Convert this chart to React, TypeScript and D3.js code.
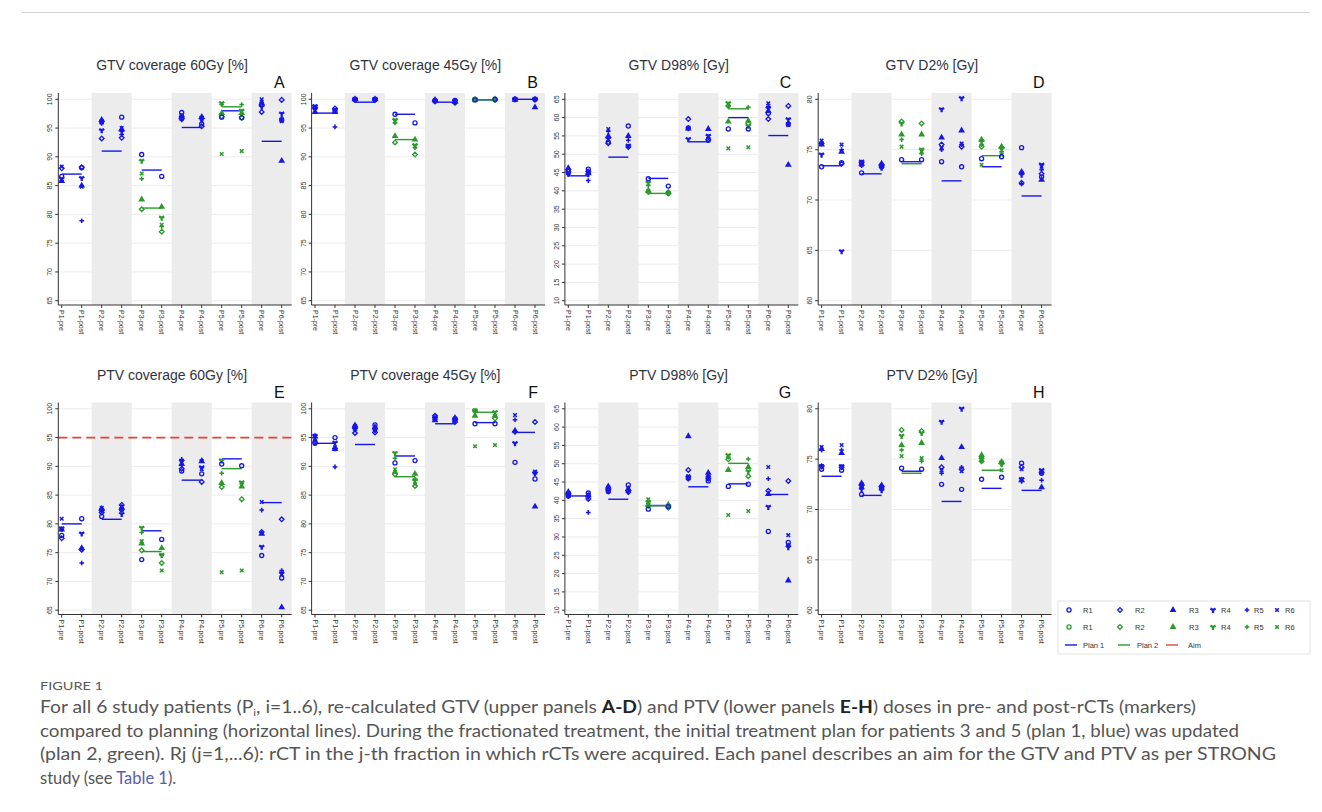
import React from 'react';
import * as d3 from 'd3';

// categories
const patients = ['P1', 'P2', 'P3', 'P4', 'P5', 'P6'];
const xTickLabels = patients.flatMap(p => [`${p}-pre`, `${p}-post`]);
const rounds = ['R1', 'R2', 'R3', 'R4', 'R5', 'R6'];
// which plan each rCT belongs to (patients 3 and 5 replanned after R1)
const roundPlan = [
  [1, 1, 1, 1, 1, 1],
  [1, 1, 1, 1, 1, 1],
  [1, 2, 2, 2, 2, 2],
  [1, 1, 1, 1, 1, 1],
  [1, 2, 2, 2, 2, 2],
  [1, 1, 1, 1, 1, 1],
];

// y tick labels
const ticksPct = [65, 70, 75, 80, 85, 90, 95, 100];
const ticksD98 = [10, 15, 20, 25, 30, 35, 40, 45, 50, 55, 60, 65];
const ticksD2 = [60, 65, 70, 75, 80];

// ---- GTV coverage 60Gy (rows = patient, cols = R1..R6)
const gtv60Pre = [
  [86.6, 88.0, 85.8, 86.2, 85.9, 88.3],
  [96.2, 93.2, 96.4, 94.6, 95.8, 96.0],
  [90.4, 80.9, 82.6, 89.3, 86.2, 87.1],
  [97.7, 96.6, 97.0, 96.9, 96.4, 97.2],
  [96.9, 97.0, 97.6, 99.3, 99.1, 90.5],
  [99.0, 97.8, 99.3, 98.7, 99.5, 100.0],
];
const gtv60Post = [
  [88.1, 88.2, 85.0, 86.3, 78.9, 84.8],
  [96.9, 93.3, 94.8, 94.4, 93.9, 95.0],
  [86.6, 77.0, 81.3, 79.4, 77.9, 78.2],
  [95.7, 95.3, 96.9, 96.5, 97.0, 96.6],
  [96.8, 96.8, 97.6, 98.0, 99.1, 91.0],
  [96.4, 99.9, 89.3, 97.5, 96.7, 96.2],
];
const gtv60Plan1 = [87.0, 91.0, 87.7, 95.1, 98.0, 92.7];
const gtv60Plan2 = [null, null, 81.1, null, 98.7, null];

// ---- GTV coverage 45Gy
const gtv45Pre = [
  [98.6, 98.5, 97.8, 98.8, 98.3, 98.0],
  [100, 99.9, 100, 100, 99.9, 100],
  [97.4, 92.5, 93.6, 96.4, 95.9, 96.1],
  [99.8, 99.6, 99.9, 99.7, 99.6, 99.8],
  [99.9, 100, 99.9, 100, 99.9, 100],
  [100, 100, 99.9, 100, 100, 100],
];
const gtv45Post = [
  [98.0, 98.4, 97.8, 98.2, 95.2, 97.9],
  [100, 99.9, 100, 100, 99.9, 100],
  [95.9, 90.4, 93.0, 92.0, 91.6, 91.8],
  [99.8, 99.4, 99.6, 99.7, 99.4, 99.5],
  [100, 99.9, 100, 99.9, 100, 100],
  [100, 100, 98.6, 100, 99.9, 100],
];
const gtv45Plan1 = [97.6, 99.5, 97.4, 99.5, 99.9, 100];
const gtv45Plan2 = [null, null, 93.0, null, 99.9, null];

// ---- GTV D98%
const gtvD98Pre = [
  [45.6, 45.3, 46.2, 44.7, 44.5, 45.0],
  [53.3, 53.0, 55.0, 54.2, 56.3, 56.9],
  [43.3, 39.7, 40.0, 42.2, 41.5, 40.0],
  [57.2, 59.6, 57.0, 54.1, 56.9, 57.1],
  [56.9, 63.2, 58.9, 63.9, 63.3, 51.6],
  [61.2, 59.6, 61.8, 62.5, 63.0, 63.9],
];
const gtvD98Post = [
  [45.9, 45.3, 44.8, 44.5, 42.8, 44.9],
  [57.7, 52.0, 55.0, 52.3, 53.8, 52.2],
  [41.3, 39.3, 39.6, 39.4, 39.2, 39.5],
  [53.8, 54.0, 56.9, 55.0, 54.4, 54.9],
  [56.9, 58.3, 59.1, 57.7, 62.8, 51.9],
  [58.2, 63.2, 47.1, 59.5, 58.6, 58.0],
];
const gtvD98Plan1 = [44.1, 49.2, 43.4, 53.4, 60.0, 55.1];
const gtvD98Plan2 = [null, null, 39.3, null, 62.4, null];

// ---- GTV D2%
const gtvD2Pre = [
  [73.3, 75.6, 75.5, 74.5, 75.7, 75.9],
  [72.7, 73.7, 73.6, 73.8, 73.4, 73.5],
  [74.0, 77.8, 76.5, 77.6, 76.0, 75.3],
  [73.8, 75.5, 76.2, 79.0, 75.0, 75.2],
  [74.1, 75.3, 76.0, 75.8, 75.5, 73.5],
  [75.2, 71.7, 72.8, 72.5, 71.6, 72.7],
];
const gtvD2Post = [
  [73.7, 73.6, 74.8, 64.9, 75.0, 75.5],
  [73.3, 73.5, 73.6, 73.2, 73.4, 73.5],
  [74.0, 77.6, 76.5, 75.0, 74.6, 74.8],
  [73.3, 75.3, 76.9, 80.1, 75.5, 75.6],
  [74.3, 75.2, 75.3, 75.1, 74.8, 74.5],
  [72.3, 72.6, 72.0, 73.5, 73.0, 73.3],
];
const gtvD2Plan1 = [73.4, 72.6, 73.8, 71.9, 73.3, 70.4];
const gtvD2Plan2 = [null, null, 73.6, null, 74.4, null];

// ---- PTV coverage 60Gy
const ptv60Pre = [
  [78.0, 77.5, 79.0, 79.2, 79.0, 80.9],
  [81.3, 82.0, 82.6, 82.4, 82.2, 82.8],
  [73.8, 75.4, 76.6, 79.3, 78.5, 77.0],
  [89.2, 89.6, 90.4, 90.9, 91.2, 90.6],
  [90.4, 86.4, 87.1, 91.0, 88.8, 71.6],
  [74.5, 78.6, 78.3, 76.0, 82.4, 83.8],
];
const ptv60Post = [
  [80.9, 75.5, 75.8, 78.3, 73.2, 75.6],
  [82.5, 83.3, 82.8, 81.7, 82.4, 83.0],
  [77.3, 73.2, 75.8, 74.6, 74.5, 71.9],
  [88.7, 87.3, 90.9, 89.8, 91.1, 89.5],
  [90.1, 84.3, 86.5, 87.2, 87.0, 71.9],
  [70.6, 80.8, 65.5, 71.4, 71.9, 71.2],
];
const ptv60Plan1 = [80.0, 80.8, 78.8, 87.6, 91.3, 83.7];
const ptv60Plan2 = [null, null, 75.2, null, 89.6, null];
const ptv60Aim = 95;

// ---- PTV coverage 45Gy
const ptv45Pre = [
  [94.0, 94.2, 95.2, 95.3, 94.5, 94.8],
  [96.8, 95.8, 97.1, 96.5, 96.3, 97.0],
  [90.6, 88.6, 89.0, 92.3, 91.4, 89.5],
  [98.3, 98.8, 98.0, 98.4, 98.1, 98.6],
  [97.4, 99.6, 98.8, 99.7, 99.5, 93.5],
  [90.7, 96.0, 96.2, 94.0, 98.1, 98.9],
];
const ptv45Post = [
  [95.0, 93.1, 93.0, 94.1, 89.9, 93.3],
  [97.2, 95.9, 96.8, 96.4, 96.2, 96.6],
  [91.0, 86.6, 88.7, 87.5, 87.8, 86.9],
  [98.0, 97.7, 98.4, 98.2, 98.0, 98.3],
  [97.4, 98.3, 98.8, 99.4, 99.0, 93.7],
  [87.8, 97.7, 83.0, 88.8, 88.7, 89.1],
];
const ptv45Plan1 = [94.0, 93.8, 91.8, 97.4, 97.6, 95.9];
const ptv45Plan2 = [null, null, 88.2, null, 99.4, null];

// ---- PTV D98%
const ptvD98Pre = [
  [41.2, 41.5, 42.3, 41.8, 41.0, 41.9],
  [42.4, 43.0, 43.8, 42.6, 42.3, 43.5],
  [37.6, 38.5, 38.7, 39.5, 39.2, 40.3],
  [46.0, 48.3, 57.5, 46.3, 45.8, 46.6],
  [43.8, 51.2, 48.3, 52.3, 51.8, 36.0],
  [31.5, 42.6, 41.7, 38.2, 45.9, 49.1],
];
const ptvD98Post = [
  [42.0, 40.4, 41.3, 41.0, 36.7, 41.5],
  [44.2, 42.3, 43.1, 42.5, 42.6, 43.3],
  [38.3, 38.0, 38.8, 38.4, 38.2, 38.5],
  [45.3, 45.9, 47.5, 46.2, 46.6, 47.0],
  [44.4, 46.6, 49.1, 47.9, 51.3, 37.1],
  [28.5, 45.3, 18.1, 27.2, 27.8, 30.5],
];
const ptvD98Plan1 = [41.2, 40.3, 38.6, 43.7, 44.5, 41.6];
const ptvD98Plan2 = [null, null, 38.5, null, 50.1, null];

// ---- PTV D2%
const ptvD2Pre = [
  [74.0, 74.3, 76.0, 74.3, 75.9, 76.2],
  [71.5, 72.4, 72.6, 72.0, 72.2, 72.5],
  [74.1, 77.9, 76.4, 77.3, 75.9, 75.3],
  [72.5, 74.2, 75.1, 78.7, 73.6, 73.9],
  [73.0, 74.8, 75.4, 75.0, 75.1, 74.9],
  [74.6, 74.2, 72.9, 73.0, 72.8, 74.0],
];
const ptvD2Post = [
  [73.9, 74.2, 75.6, 74.3, 75.9, 76.4],
  [72.1, 72.3, 72.4, 71.9, 72.0, 72.2],
  [74.0, 77.8, 76.6, 77.6, 74.8, 75.1],
  [72.0, 74.0, 76.2, 80.0, 74.2, 73.8],
  [73.2, 74.6, 74.7, 74.5, 74.8, 73.9],
  [73.6, 73.7, 72.2, 73.9, 72.9, 73.7],
];
const ptvD2Plan1 = [73.3, 71.4, 73.8, 70.8, 72.1, 71.9];
const ptvD2Plan2 = [null, null, 73.6, null, 73.9, null];

const panels = [
  { title: 'GTV coverage 60Gy [%]', letter: 'A', pre: gtv60Pre, post: gtv60Post, plan1: gtv60Plan1, plan2: gtv60Plan2, ticks: ticksPct, aim: null },
  { title: 'GTV coverage 45Gy [%]', letter: 'B', pre: gtv45Pre, post: gtv45Post, plan1: gtv45Plan1, plan2: gtv45Plan2, ticks: ticksPct, aim: null },
  { title: 'GTV D98% [Gy]', letter: 'C', pre: gtvD98Pre, post: gtvD98Post, plan1: gtvD98Plan1, plan2: gtvD98Plan2, ticks: ticksD98, aim: null },
  { title: 'GTV D2% [Gy]', letter: 'D', pre: gtvD2Pre, post: gtvD2Post, plan1: gtvD2Plan1, plan2: gtvD2Plan2, ticks: ticksD2, aim: null },
  { title: 'PTV coverage 60Gy [%]', letter: 'E', pre: ptv60Pre, post: ptv60Post, plan1: ptv60Plan1, plan2: ptv60Plan2, ticks: ticksPct, aim: ptv60Aim },
  { title: 'PTV coverage 45Gy [%]', letter: 'F', pre: ptv45Pre, post: ptv45Post, plan1: ptv45Plan1, plan2: ptv45Plan2, ticks: ticksPct, aim: null },
  { title: 'PTV D98% [Gy]', letter: 'G', pre: ptvD98Pre, post: ptvD98Post, plan1: ptvD98Plan1, plan2: ptvD98Plan2, ticks: ticksD98, aim: null },
  { title: 'PTV D2% [Gy]', letter: 'H', pre: ptvD2Pre, post: ptvD2Post, plan1: ptvD2Plan1, plan2: ptvD2Plan2, ticks: ticksD2, aim: null },
];

const BLUE = '#1616e8';
const GREEN = '#2a9a2a';
const RED = '#e8413c';
const planColor = (p: number) => (p === 2 ? GREEN : BLUE);
const FONT = '"Liberation Sans", Arial, sans-serif';

const COL_X = [58.3, 311.6, 564.9, 818.2];
const ROW_Y = [93, 402.5];
const PW = 233.4;
const PH = 212;

// marker shapes for R1..R6
const symTypes = [d3.symbolCircle, d3.symbolDiamond2, d3.symbolTriangle, d3.symbolWye, d3.symbolCross, d3.symbolTimes];
const symSizes = [13, 14, 20, 18, 12, 10];
const hollow = [true, true, false, false, false, false];
const stroked = [false, false, false, false, false, true];
const symPaths = symTypes.map((t, i) => d3.symbol().type(t).size(symSizes[i])() as string);

function Marker({ j, color, tx, ty }: any) {
  if (hollow[j]) return <path d={symPaths[j]} transform={`translate(${tx},${ty})`} fill="none" stroke={color} strokeWidth={1.3} />;
  if (stroked[j]) return <path d={symPaths[j]} transform={`translate(${tx},${ty})`} fill="none" stroke={color} strokeWidth={1.5} />;
  return <path d={symPaths[j]} transform={`translate(${tx},${ty})`} fill={color} />;
}

function Panel({ cfg, x0, y0 }: any) {
  const x = d3.scaleLinear().domain([-0.17, 11.5]).range([x0, x0 + PW]);
  const lo = cfg.ticks[0];
  const hi = cfg.ticks[cfg.ticks.length - 1];
  const y = d3.scaleLinear().domain([lo, hi]).range([y0 + PH - 4.3, y0 + 6.3]);
  const bottom = y0 + PH;

  return (
    <g>
      {cfg.ticks.map((t: number) => (
        <line key={'g' + t} x1={x0} x2={x0 + PW} y1={y(t)} y2={y(t)} stroke="#ebebeb" strokeWidth={1} />
      ))}
      {[1, 3, 5].map(p => (
        <rect key={'b' + p} x={x(2 * p - 0.5)} y={y0} width={x(2 * p + 1.5) - x(2 * p - 0.5)} height={PH} fill="#ececec" />
      ))}
      {cfg.aim != null && (
        <line x1={x0} x2={x0 + PW} y1={y(cfg.aim)} y2={y(cfg.aim)} stroke={RED} strokeWidth={1.8} strokeDasharray="9,5" />
      )}
      {patients.map((p, i) => (
        <g key={'pl' + p}>
          <line x1={x(2 * i)} x2={x(2 * i + 1)} y1={y(cfg.plan1[i])} y2={y(cfg.plan1[i])} stroke={BLUE} strokeWidth={1.4} />
          {cfg.plan2[i] != null && (
            <line x1={x(2 * i)} x2={x(2 * i + 1)} y1={y(cfg.plan2[i])} y2={y(cfg.plan2[i])} stroke={GREEN} strokeWidth={1.4} />
          )}
        </g>
      ))}
      {patients.map((p, i) =>
        [cfg.pre[i], cfg.post[i]].map((vals: number[], ph: number) =>
          vals.map((v, j) => ({ v, j })).reverse().map(({ v, j }) => (
            <Marker key={`m${i}-${ph}-${j}`} j={j} color={planColor(roundPlan[i][j])} tx={x(2 * i + ph)} ty={y(v)} />
          ))
        )
      )}
      {/* axes */}
      <line x1={x0} x2={x0} y1={y0} y2={bottom} stroke="#333" strokeWidth={1} />
      <line x1={x0} x2={x0 + PW} y1={bottom} y2={bottom} stroke="#333" strokeWidth={1} />
      {cfg.ticks.map((t: number) => (
        <g key={'yt' + t}>
          <line x1={x0 - 3} x2={x0} y1={y(t)} y2={y(t)} stroke="#333" />
          <text transform={`translate(${x0 - 6},${y(t)}) rotate(-90)`} textAnchor="middle" fontSize={7} fill="#333">{t}</text>
        </g>
      ))}
      {xTickLabels.map((lab, k) => (
        <g key={'xt' + lab}>
          <line x1={x(k)} x2={x(k)} y1={bottom} y2={bottom + 3} stroke="#333" />
          <text transform={`translate(${x(k) - 2.5},${bottom + 5}) rotate(90)`} fontSize={7} fill="#333">{lab}</text>
        </g>
      ))}
      <text x={x0 + PW / 2 - 3} y={y0 - 23} textAnchor="middle" fontSize={14} fill="#30323f">{cfg.title}</text>
      <text x={x0 + PW - 7} y={y0 - 5} textAnchor="end" fontSize={16} fill="#111">{cfg.letter}</text>
    </g>
  );
}

const legendMarkerX = [1069, 1120, 1173, 1213, 1247, 1277];
const legendTextX = [1083, 1135, 1189, 1221, 1254, 1285];
const legendLines = [
  { label: 'Plan 1', color: BLUE, x: 1065, tx: 1083 },
  { label: 'Plan 2', color: GREEN, x: 1118, tx: 1137 },
  { label: 'Aim', color: RED, x: 1166, tx: 1188 },
];

function Legend() {
  const rowsY = [610, 627, 645];
  return (
    <g fontSize={7.5} fill="#333">
      <rect x={1058} y={601} width={252} height={53} fill="#fff" stroke="#e2e2e2" />
      {[BLUE, GREEN].map((c, r) =>
        rounds.map((lab, j) => (
          <g key={`lg${r}${j}`}>
            <Marker j={j} color={c} tx={legendMarkerX[j]} ty={rowsY[r]} />
            <text x={legendTextX[j]} y={rowsY[r] + 2.7}>{lab}</text>
          </g>
        ))
      )}
      {legendLines.map(l => (
        <g key={l.label}>
          <line x1={l.x} x2={l.x + 12} y1={rowsY[2]} y2={rowsY[2]} stroke={l.color} strokeWidth={1.4} />
          <text x={l.tx} y={rowsY[2] + 2.7}>{l.label}</text>
        </g>
      ))}
    </g>
  );
}

const CAP_FONT = 'Lato, "Open Sans", sans-serif';

export default function App() {
  return (
    <svg width={1322} height={812} style={{ position: 'absolute', left: 0, top: 0, background: '#fff' }} fontFamily={FONT}>
      <rect width={1322} height={812} fill="#fff" />
      <line x1={22} x2={1310} y1={12.5} y2={12.5} stroke="#d4d4d4" />
      {panels.map((cfg, k) => (
        <Panel key={cfg.letter} cfg={cfg} x0={COL_X[k % 4]} y0={ROW_Y[Math.floor(k / 4)]} />
      ))}
      <Legend />
      <g fontFamily={CAP_FONT} fill="#555">
        <text x={40} y={690} fontSize={12} fill="#5a5a5a" textLength={63} lengthAdjust="spacingAndGlyphs">FIGURE 1</text>
        <text x={40} y={713} fontSize={16.5} textLength={1156} lengthAdjust="spacingAndGlyphs">
          <tspan>For all 6 study patients (P</tspan>
          <tspan fontSize={10} dy={3}>i</tspan>
          <tspan dy={-3}>, i=1..6), re-calculated GTV (upper panels </tspan>
          <tspan fontWeight="bold" fill="#222">A-D</tspan>
          <tspan>) and PTV (lower panels </tspan>
          <tspan fontWeight="bold" fill="#222">E-H</tspan>
          <tspan>) doses in pre- and post-rCTs (markers)</tspan>
        </text>
        <text x={40} y={736.5} fontSize={16.5} textLength={1199} lengthAdjust="spacingAndGlyphs">
          compared to planning (horizontal lines). During the fractionated treatment, the initial treatment plan for patients 3 and 5 (plan 1, blue) was updated
        </text>
        <text x={40} y={760} fontSize={16.5} textLength={1236} lengthAdjust="spacingAndGlyphs">
          (plan 2, green). Rj (j=1,...6): rCT in the j-th fraction in which rCTs were acquired. Each panel describes an aim for the GTV and PTV as per STRONG
        </text>
        <text x={40} y={783.5} fontSize={16.5}>
          <tspan>study (see </tspan>
          <tspan fill="#5b5bb0">Table 1</tspan>
          <tspan>).</tspan>
        </text>
      </g>
    </svg>
  );
}
